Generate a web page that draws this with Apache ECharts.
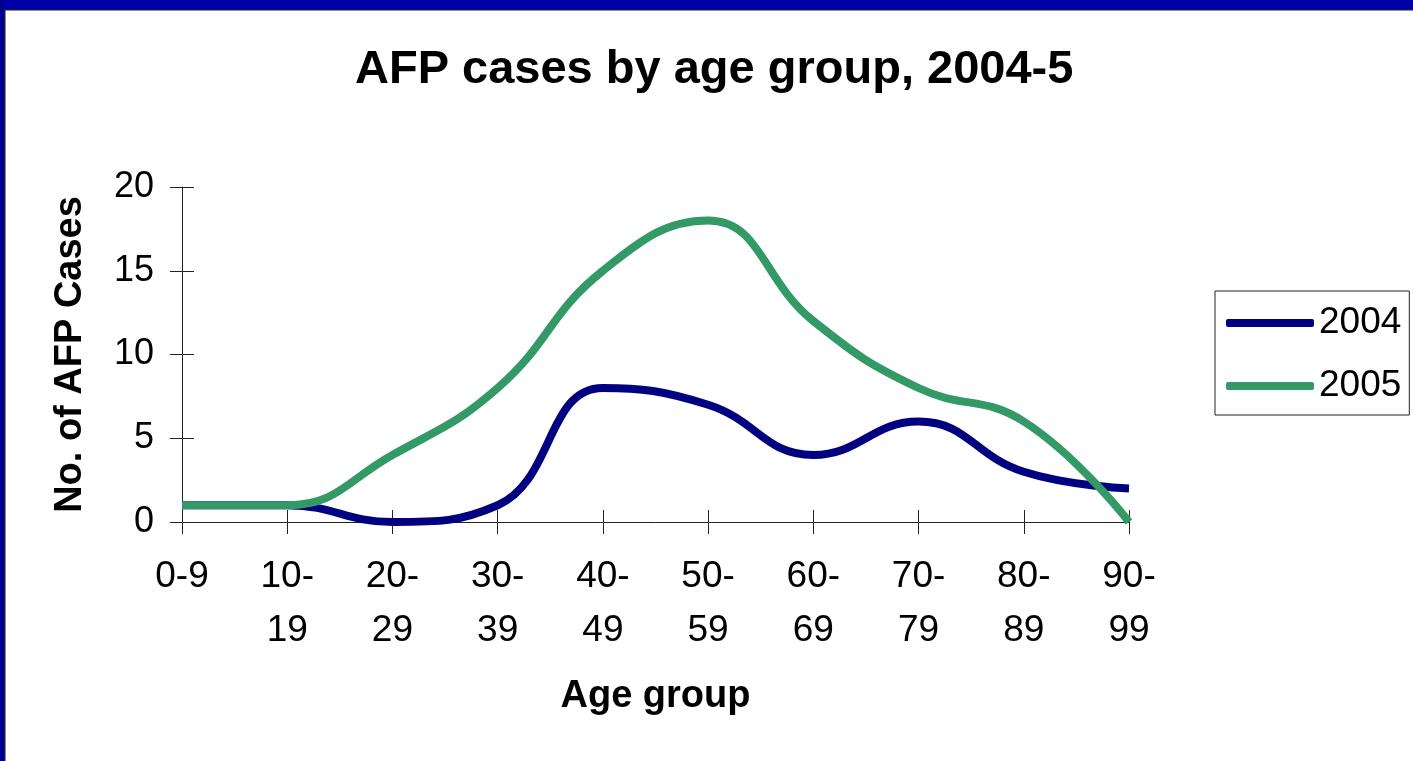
<!DOCTYPE html>
<html>
<head>
<meta charset="utf-8">
<script src="https://cdn.jsdelivr.net/npm/echarts@6/dist/echarts.min.js"></script>
<style>
  html, body { margin: 0; padding: 0; background: #fff; }
  #afpChart { width: 1413px; height: 761px; }
</style>
</head>
<body>
<div id="afpChart"></div>
<script>
// age groups (two-line labels like the original wrapped text)
const ageGroups = ['0-9', '10-\n19', '20-\n29', '30-\n39', '40-\n49', '50-\n59', '60-\n69', '70-\n79', '80-\n89', '90-\n99']
const cases2004 = [1, 1, 0, 1, 8, 7, 4, 6, 3, 2]
const cases2005 = [1, 1, 4, 8, 15, 18, 12, 8, 6, 0]
const yTicks = [0, 5, 10, 15, 20]

const font = 'Arial, "Liberation Sans", sans-serif'
const axisColor = '#222'

const myChart = echarts.init(document.getElementById('afpChart'))

const option = {
  backgroundColor: '#fff',
  animation: false,
  // slide frame
  graphic: [
    { type: 'rect', shape: { x: 0, y: 0, width: 1413, height: 9 }, style: { fill: '#0000A8' }, silent: true },
    { type: 'rect', shape: { x: 0, y: 9, width: 1413, height: 1.5 }, style: { fill: '#1a1a40' }, silent: true },
    { type: 'rect', shape: { x: 0, y: 0, width: 4, height: 761 }, style: { fill: '#000090' }, silent: true },
    { type: 'rect', shape: { x: 4, y: 9, width: 1.5, height: 752 }, style: { fill: '#1a1a40' }, silent: true },
  ],
  title: {
    text: 'AFP cases by age group, 2004-5',
    left: 355,
    top: 47,
    padding: 0,
    textStyle: { fontFamily: font, fontSize: 47, fontWeight: 'bold', color: '#000' },
  },
  legend: {
    orient: 'vertical',
    left: 1215,
    top: 291,
    padding: [12, 8, 9, 11],
    itemGap: 23,
    itemWidth: 88,
    itemHeight: 8,
    icon: 'roundRect',
    borderColor: '#222',
    borderWidth: 1,
    borderRadius: 0,
    data: ['2004', '2005'],
    textStyle: { fontFamily: font, fontSize: 37, color: '#000', lineHeight: 40 },
  },
  grid: {
    left: 182,
    right: 284,
    top: 187,
    bottom: 239,
    containLabel: false,
  },
  xAxis: [
    {
      type: 'category',
      data: ageGroups,
      boundaryGap: false,
      name: 'Age group',
      nameLocation: 'middle',
      nameGap: 156,
      nameTextStyle: { fontFamily: font, fontSize: 38, fontWeight: 'bold', color: '#000' },
      axisLine: { show: true, lineStyle: { color: axisColor, width: 1 } },
      axisTick: { show: true, length: 12, lineStyle: { color: axisColor } },
      axisLabel: {
        margin: 28,
        fontFamily: font,
        fontSize: 37,
        lineHeight: 54,
        color: '#000',
        interval: 0,
      },
      splitLine: { show: false },
    },
    {
      // inner half of the cross tick marks
      type: 'category',
      data: ageGroups,
      boundaryGap: false,
      position: 'bottom',
      axisLine: { show: false },
      axisTick: { show: true, inside: true, length: 12, lineStyle: { color: axisColor } },
      axisLabel: { show: false },
      splitLine: { show: false },
    },
  ],
  yAxis: [
    {
      type: 'value',
      min: yTicks[0],
      max: yTicks[yTicks.length - 1],
      interval: 5,
      name: 'No. of AFP Cases',
      nameLocation: 'middle',
      nameGap: 92,
      nameRotate: 90,
      nameTextStyle: { fontFamily: font, fontSize: 38, fontWeight: 'bold', color: '#000' },
      axisLine: { show: true, lineStyle: { color: axisColor, width: 1 } },
      axisTick: { show: true, length: 12, lineStyle: { color: axisColor } },
      axisLabel: { margin: 28, fontFamily: font, fontSize: 36, color: '#000' },
      splitLine: { show: false },
    },
    {
      type: 'value',
      min: yTicks[0],
      max: yTicks[yTicks.length - 1],
      interval: 5,
      position: 'left',
      axisLine: { show: false },
      axisTick: { show: true, inside: true, length: 12, lineStyle: { color: axisColor } },
      axisLabel: { show: false },
      splitLine: { show: false },
    },
  ],
  series: [
    {
      name: '2004',
      type: 'line',
      data: cases2004,
      smooth: 0.45,
      symbol: 'none',
      itemStyle: { color: '#000080' },
      lineStyle: { color: '#000080', width: 8 },
      z: 3,
    },
    {
      name: '2005',
      type: 'line',
      data: cases2005,
      smooth: 0.45,
      symbol: 'none',
      itemStyle: { color: '#339966' },
      lineStyle: { color: '#339966', width: 8 },
      z: 4,
    },
  ],
}

myChart.setOption(option)
</script>
</body>
</html>
